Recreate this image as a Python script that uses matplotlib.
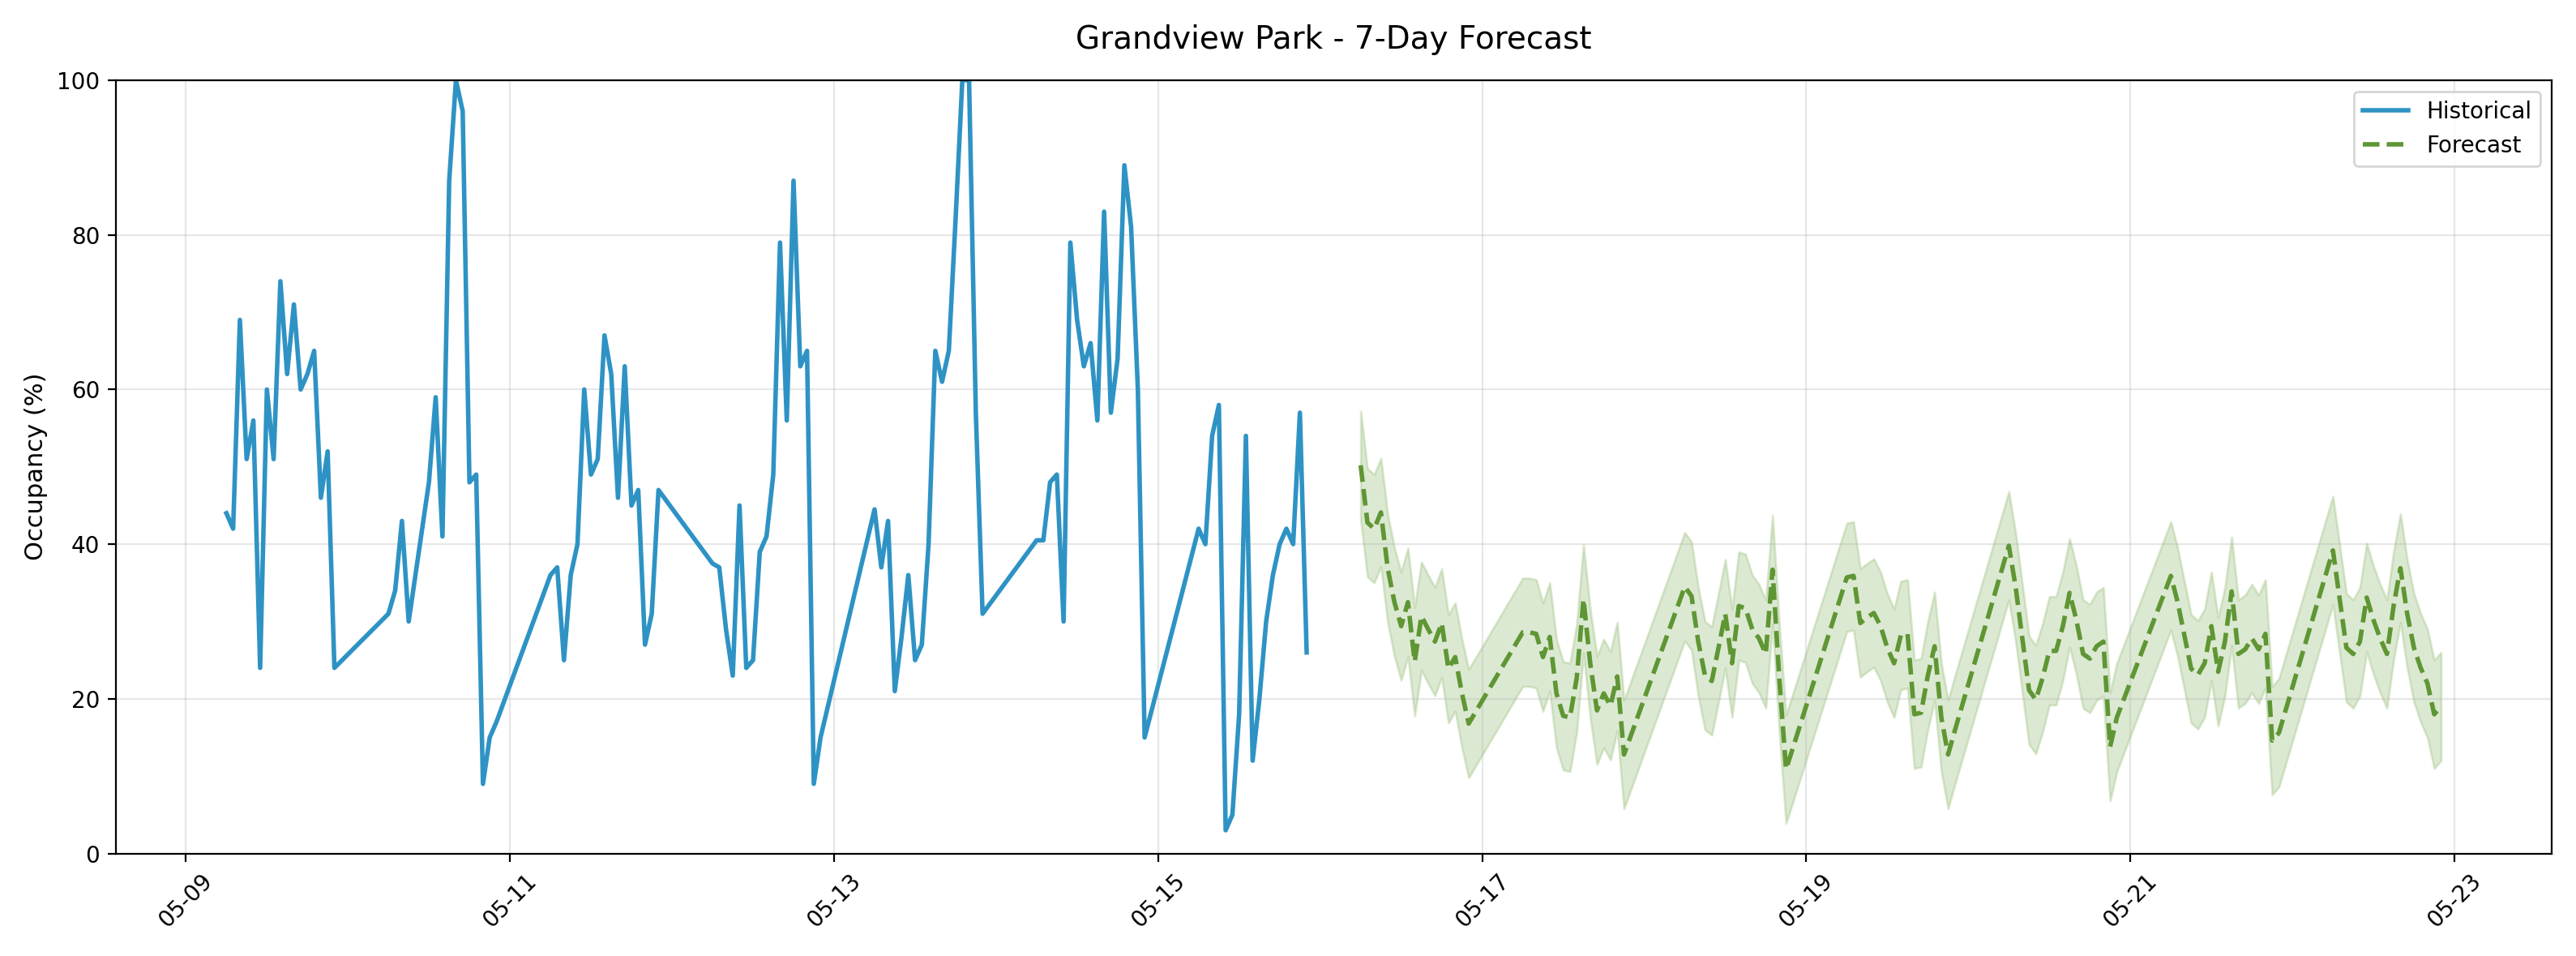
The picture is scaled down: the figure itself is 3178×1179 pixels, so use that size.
import numpy as np
import pandas as pd
import matplotlib
matplotlib.use("Agg")
import matplotlib.pyplot as plt
import matplotlib.dates as mdates

# hourly readings, 06:00..22:00 each day
hours = list(range(6, 23))

hist_days = ["2024-05-09", "2024-05-10", "2024-05-11", "2024-05-12",
             "2024-05-13", "2024-05-14", "2024-05-15"]
hist_values = [
    [44, 42, 69, 51, 56, 24, 60, 51, 74, 62, 71, 60, 62, 65, 46, 52, 24],
    [31, 34, 43, 30, 36, 42, 48, 59, 41, 87, 100, 96, 48, 49, 9, 15, 17],
    [36, 37, 25, 36, 40, 60, 49, 51, 67, 62, 46, 63, 45, 47, 27, 31, 47],
    [37.5, 37, 29, 23, 45, 24, 25, 39, 41, 49, 79, 56, 87, 63, 65, 9, 15],
    [44.5, 37, 43, 21, 28, 36, 25, 27, 40, 65, 61, 65, 82, 100, 100, 57, 31],
    [40.5, 40.5, 48, 49, 30, 79, 69, 63, 66, 56, 83, 57, 64, 89, 81, 60, 15],
    [42, 40, 54, 58, 3, 5, 18, 54, 12, 20, 30, 36, 40, 42, 40, 57, 26],
]

fc_days = ["2024-05-16", "2024-05-17", "2024-05-18", "2024-05-19",
           "2024-05-20", "2024-05-21", "2024-05-22"]
fc_values = [
    [50.2, 42.8, 42, 44.1, 36.9, 32.5, 29.4, 32.5, 24.8, 30.7, 29, 27.4, 29.8, 23.9, 25.4, 20.7, 16.8],
    [28.6, 28.6, 28.4, 25.4, 28, 20.7, 17.8, 17.6, 22.7, 32.9, 24.6, 18.5, 20.7, 19.1, 22.9, 12.8, 15.2],
    [34.5, 33.3, 27.4, 23, 22.3, 26.6, 31, 24.6, 32, 31.7, 29, 27.8, 25.8, 36.7, 22.7, 10.9, 13.6],
    [35.7, 35.9, 29.8, 30.5, 31.1, 29.4, 26.6, 24.6, 28.2, 28.4, 18, 18.2, 23, 26.8, 17.6, 12.8, 15.9],
    [39.8, 34.5, 27.8, 21.1, 19.9, 22.7, 26.2, 26.2, 29.4, 33.7, 30.2, 25.8, 25.2, 26.8, 27.4, 13.8, 17.6],
    [35.9, 32.5, 28.2, 23.9, 23.1, 24.6, 29.4, 23.5, 27.4, 33.9, 25.8, 26.4, 27.8, 26.4, 28.4, 14.6, 15.6],
    [39.2, 32.9, 26.6, 25.8, 27.4, 33.1, 30.2, 27.8, 25.8, 32.1, 36.9, 31, 26.6, 24, 22, 18, 19],
]
band_margin = 7.0


def to_series(days, values):
    t, v = [], []
    for d, vals in zip(days, values):
        base = pd.Timestamp(d)
        for h, val in zip(hours, vals):
            t.append(base + pd.Timedelta(hours=h))
            v.append(val)
    return pd.DatetimeIndex(t), np.array(v, dtype=float)


ht, hv = to_series(hist_days, hist_values)
ft, fv = to_series(fc_days, fc_values)

fig, ax = plt.subplots(figsize=(15.89, 5.895), dpi=200)

ax.plot(ht, hv, color="#2E93C4", lw=2, label="Historical")
ax.plot(ft, fv, color="#5F9634", lw=2, ls="--", label="Forecast")
ax.fill_between(ft, fv - band_margin, fv + band_margin, color="#8DB86B", alpha=0.3)

ax.set_ylim(0, 100)
ax.set_ylabel("Occupancy (%)", fontsize=11)
ax.set_title("Grandview Park - 7-Day Forecast", fontsize=14, pad=14)
ax.xaxis.set_major_locator(mdates.DayLocator(bymonthday=[9, 11, 13, 15, 17, 19, 21, 23]))
ax.xaxis.set_major_formatter(mdates.DateFormatter("%m-%d"))
plt.setp(ax.get_xticklabels(), rotation=45)
ax.grid(True, alpha=0.3)
ax.legend(loc="upper right")

fig.tight_layout()
fig.savefig("out.png", dpi=200)
